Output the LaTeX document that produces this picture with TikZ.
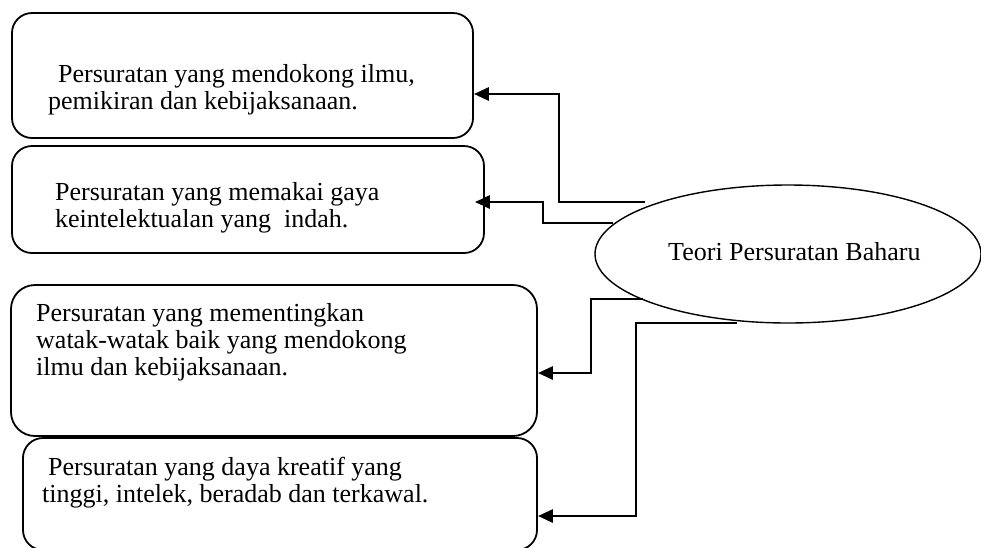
\documentclass[tikz,border=0pt]{standalone}
\usepackage{fontspec}
\setmainfont{Liberation Serif}
\usetikzlibrary{shapes.geometric,arrows.meta}
\begin{document}
\begin{tikzpicture}[x=1pt,y=-1pt,
  box/.style={draw, line width=1.8pt, rounded corners=20pt, inner sep=0pt},
  txt/.style={font=\fontsize{26}{27}\selectfont, align=left, inner sep=0pt, anchor=north west},
  conn/.style={line width=2.8pt, -{Triangle[length=15pt,width=13pt]}}]
\useasboundingbox (0,0) rectangle (981,547);
% boxes
\node[box, minimum width=461pt, minimum height=125pt] (b1) at (242.5,75.5) {};
\node[box, minimum width=472pt, minimum height=107pt] (b2) at (248,199.5) {};
\node[box, rounded corners=24pt, minimum width=526pt, minimum height=151pt] (b3) at (274,360.5) {};
\node[box, minimum width=514pt, minimum height=112pt] (b4) at (280,494) {};
% ellipse
\node[draw, ellipse, line width=1.4pt, minimum width=386pt, minimum height=138pt, inner sep=0pt] (E) at (788,254) {};
\node[font=\fontsize{26}{27}\selectfont, anchor=base west, inner sep=0pt] (et) at (668,260) {Teori Persuratan Baharu};
% texts
\node[txt] (t1) at (48,64.3) {\hspace*{10pt}Persuratan yang mendokong ilmu,\\pemikiran dan kebijaksanaan.};
\node[txt] (t2) at (55,182.3) {Persuratan yang memakai gaya\\keintelektualan yang~ indah.};
\node[txt] (t3) at (36,303.3) {Persuratan yang mementingkan\\watak-watak baik yang mendokong\\ilmu dan kebijaksanaan.};
\node[txt] (t4) at (42,457.3) {\hspace*{6pt}Persuratan yang daya kreatif yang\\tinggi, intelek, beradab dan terkawal.};
% connectors
\coordinate (s1) at (645,202);
\coordinate (s2) at (613,223);
\coordinate (s3) at (643,299);
\coordinate (s4) at (737,323);
\draw[conn] (s1) -- (559,202) |- ([yshift=-18.5pt]b1.east);
\draw[conn] (s2) -- (543,223) |- ([xshift=-10pt,yshift=-2.5pt]b2.east);
\draw[conn] (s3) -- (591,299) |- ([yshift=-12.5pt]b3.east);
\draw[conn] (s4) -- (636,323) |- ([yshift=-22pt]b4.east);
\end{tikzpicture}
\end{document}
